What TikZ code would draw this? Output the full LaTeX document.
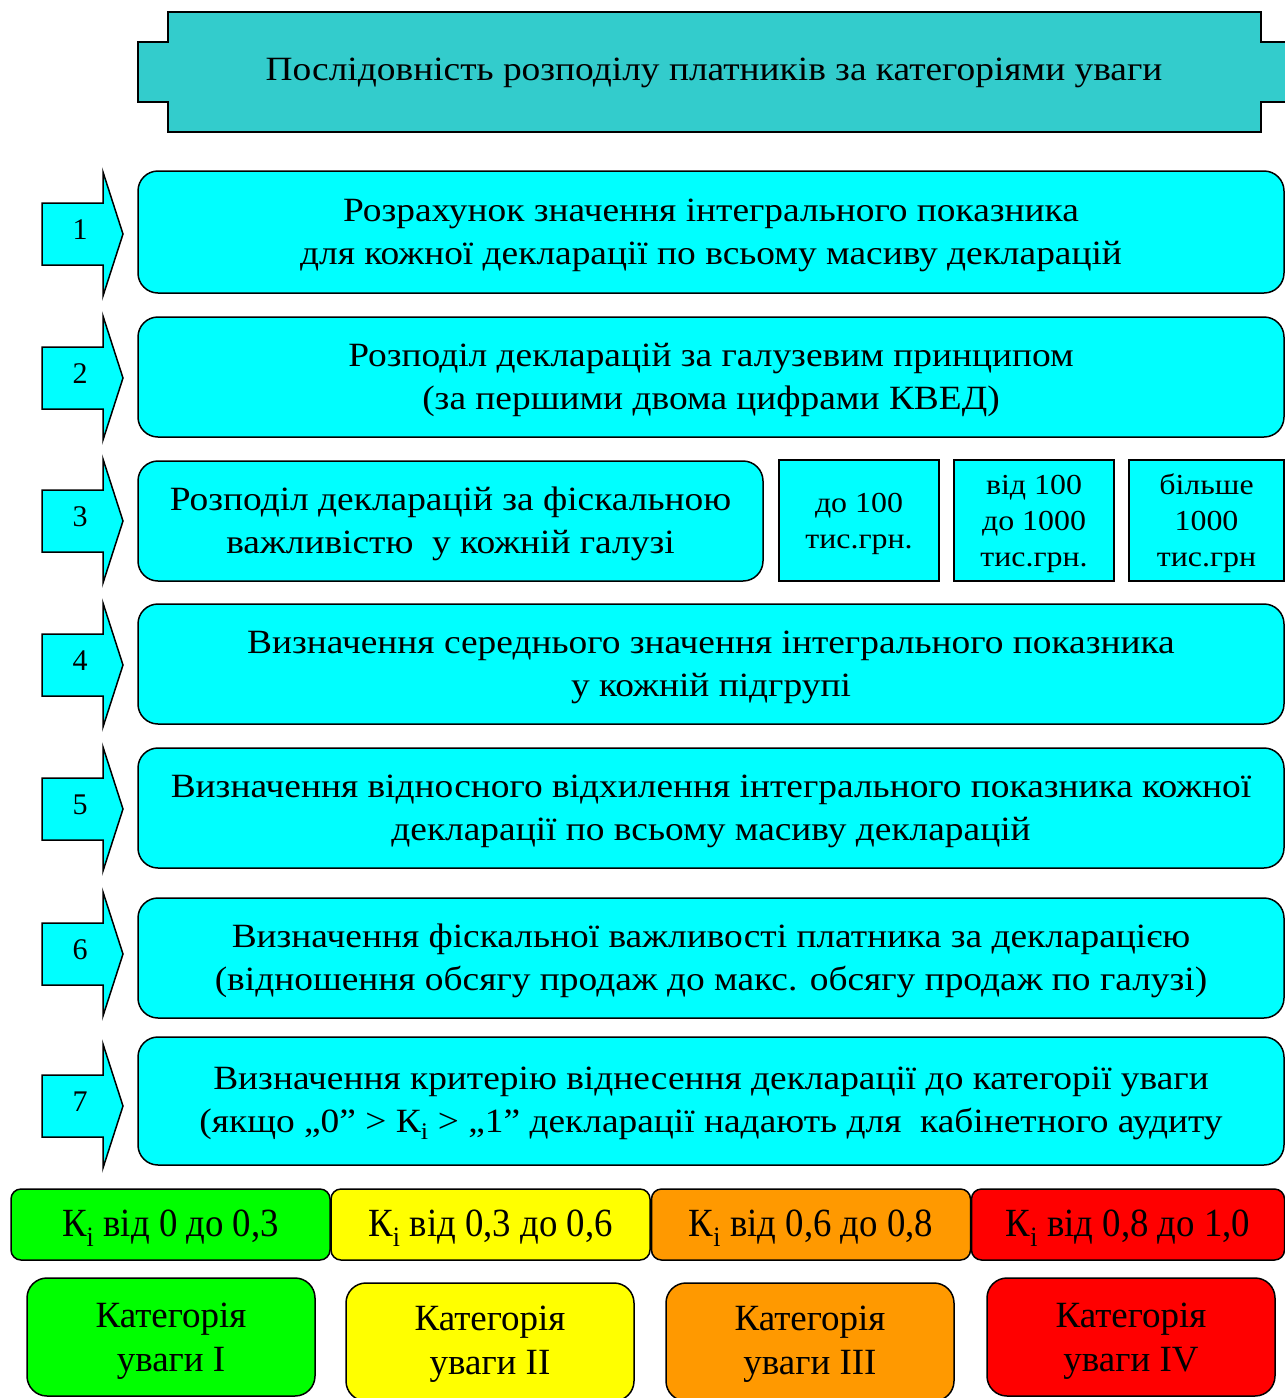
\documentclass[tikz,border=0pt]{standalone}
\usepackage{fontspec}
\setmainfont{Liberation Serif}
\newfontfamily\widefont[FakeStretch=1.1]{Liberation Serif}
\newfontfamily\narrowfont[FakeStretch=0.92]{Liberation Serif}
\begin{document}
\begin{tikzpicture}[x=1pt,y=-1pt,
  every node/.style={inner sep=0pt, outer sep=0pt},
  txt/.style={font=\widefont\fontsize{34}{43}\selectfont, align=center},
  % box text sits a little below the geometric centre
  boxtext/.style={label={[#1, yshift=-3pt]center:{\boxcontent}}},
  stepbox/.style={draw=black, line width=1.5pt, fill=stepcyan, rounded corners=20pt},
  valtxt/.style={align=center, font=\widefont\fontsize{29}{36}\selectfont},
  valbox/.style={draw=black, line width=1.5pt, fill=stepcyan},
  ktxt/.style={font=\narrowfont\fontsize{40}{44}\selectfont},
  kbox/.style={draw=black, line width=1.5pt, rounded corners=10pt, minimum width=319pt, minimum height=71pt},
  cattxt/.style={align=center, font=\fontsize{37}{44}\selectfont},
  catbox/.style={draw=black, line width=1.5pt, rounded corners=20pt, minimum width=288pt, minimum height=118pt},
  arrowshape/.style={draw=black, line width=1.5pt, fill=stepcyan, line join=miter},
  num/.style={font=\fontsize{30}{34}\selectfont}
]
\definecolor{stepcyan}{HTML}{00FFFF}
\definecolor{titleteal}{HTML}{33CCCC}
\definecolor{kgreen}{HTML}{00FF00}
\definecolor{kyellow}{HTML}{FFFF00}
\definecolor{korange}{HTML}{FF9900}
\definecolor{kred}{HTML}{FF0000}
\useasboundingbox (0,0) rectangle (1285,1398);

% heading banner
\draw[line width=1.5pt, fill=titleteal]
  (168,12) -- (1261,12) -- (1261,42) -- (1290,42) -- (1290,102) -- (1261,102)
  -- (1261,132) -- (168,132) -- (168,102) -- (138,102) -- (138,42) -- (168,42) -- cycle;
\node[txt] (title) at (714,73) {Послідовність розподілу платників за категоріями уваги};

% step arrows with their numbers
\foreach \n/\c in {1/234,2/378,3/521,4/665,5/809,6/954,7/1106}{
  \draw[arrowshape] (42,\c-31) -- (103,\c-31) -- (103,\c-62) -- (123,\c)
    -- (103,\c+62) -- (103,\c+31) -- (42,\c+31) -- cycle;
  \node[num] (n\n) at (80,\c-4) {\n};
}

% step boxes
\node[stepbox, minimum width=1146pt, minimum height=122pt] (s1) at (711,232) {};
\node[txt] (s1t) at ([yshift=-3pt]s1.center)
  {Розрахунок значення інтегрального показника\\для кожної декларації по всьому масиву декларацій};
\node[stepbox, minimum width=1146pt, minimum height=120pt] (s2) at (711,377) {};
\node[txt] (s2t) at ([yshift=-3pt]s2.center)
  {Розподіл декларацій за галузевим принципом\\(за першими двома цифрами КВЕД)};
\node[stepbox, minimum width=625pt, minimum height=120pt] (s3) at (450.5,521) {};
\node[txt] (s3t) at ([yshift=-3pt]s3.center)
  {Розподіл декларацій за фіскальною\\важливістю\ \ у кожній галузі};
\node[valbox, minimum width=160pt, minimum height=121pt] (v1) at (859,520.5) {};
\node[valtxt] (v1t) at ([yshift=-3pt]v1.center) {до 100\\тис.грн.};
\node[valbox, minimum width=160pt, minimum height=121pt] (v2) at (1034,520.5) {};
\node[valtxt] (v2t) at ([yshift=-3pt]v2.center) {від 100\\до 1000\\тис.грн.};
\node[valbox, minimum width=155pt, minimum height=121pt] (v3) at (1206.5,520.5) {};
\node[valtxt] (v3t) at ([yshift=-3pt]v3.center) {більше\\1000\\тис.грн};
\node[stepbox, minimum width=1146pt, minimum height=120pt] (s4) at (711,664) {};
\node[txt] (s4t) at ([yshift=-3pt]s4.center)
  {Визначення середнього значення інтегрального показника\\у кожній підгрупі};
\node[stepbox, minimum width=1146pt, minimum height=120pt] (s5) at (711,808) {};
\node[txt] (s5t) at ([yshift=-3pt]s5.center)
  {Визначення відносного відхилення інтегрального показника кожної\\декларації по всьому масиву декларацій};
\node[stepbox, minimum width=1146pt, minimum height=120pt] (s6) at (711,958) {};
\node[txt] (s6t) at ([yshift=-3pt]s6.center)
  {Визначення фіскальної важливості платника за декларацією\\(відношення обсягу продаж до макс. обсягу продаж по галузі)};
\node[stepbox, minimum width=1146pt, minimum height=128pt] (s7) at (711,1101) {};
\node[txt] (s7t) at ([yshift=-2pt]s7.center)
  {Визначення критерію віднесення декларації до категорії уваги\\(якщо „0” > К\textsubscript{і} > „1” декларації надають для\ \ кабінетного аудиту};

% coefficient ranges
\node[kbox, fill=kgreen]  (k1) at (170.5,1224.5) {};
\node[ktxt] (k1t) at ([yshift=-4pt]k1.center) {К\textsubscript{і} від 0 до 0,3};
\node[kbox, fill=kyellow] (k2) at (490.5,1224.5) {};
\node[ktxt] (k2t) at ([yshift=-4pt]k2.center) {К\textsubscript{і} від 0,3 до 0,6};
\node[kbox, fill=korange] (k3) at (811,1224.5) {};
\node[ktxt] (k3t) at ([yshift=-4pt]k3.center) {К\textsubscript{і} від 0,6 до 0,8};
\node[kbox, fill=kred, minimum width=313pt] (k4) at (1128,1224.5) {};
\node[ktxt] (k4t) at ([yshift=-4pt]k4.center) {К\textsubscript{і} від 0,8 до 1,0};

% attention categories
\node[catbox, fill=kgreen]  (c1) at (171,1337) {};
\node[cattxt] (c1t) at ([yshift=-4pt]c1.center) {Категорія\\уваги I};
\node[catbox, fill=kyellow] (c2) at (490,1342) {};
\node[cattxt] (c2t) at ([yshift=-2pt]c2.center) {Категорія\\уваги II};
\node[catbox, fill=korange] (c3) at (810,1342) {};
\node[cattxt] (c3t) at ([yshift=-2pt]c3.center) {Категорія\\уваги III};
\node[catbox, fill=kred]    (c4) at (1131,1337) {};
\node[cattxt] (c4t) at ([yshift=-4pt]c4.center) {Категорія\\уваги IV};
\end{tikzpicture}
\end{document}
